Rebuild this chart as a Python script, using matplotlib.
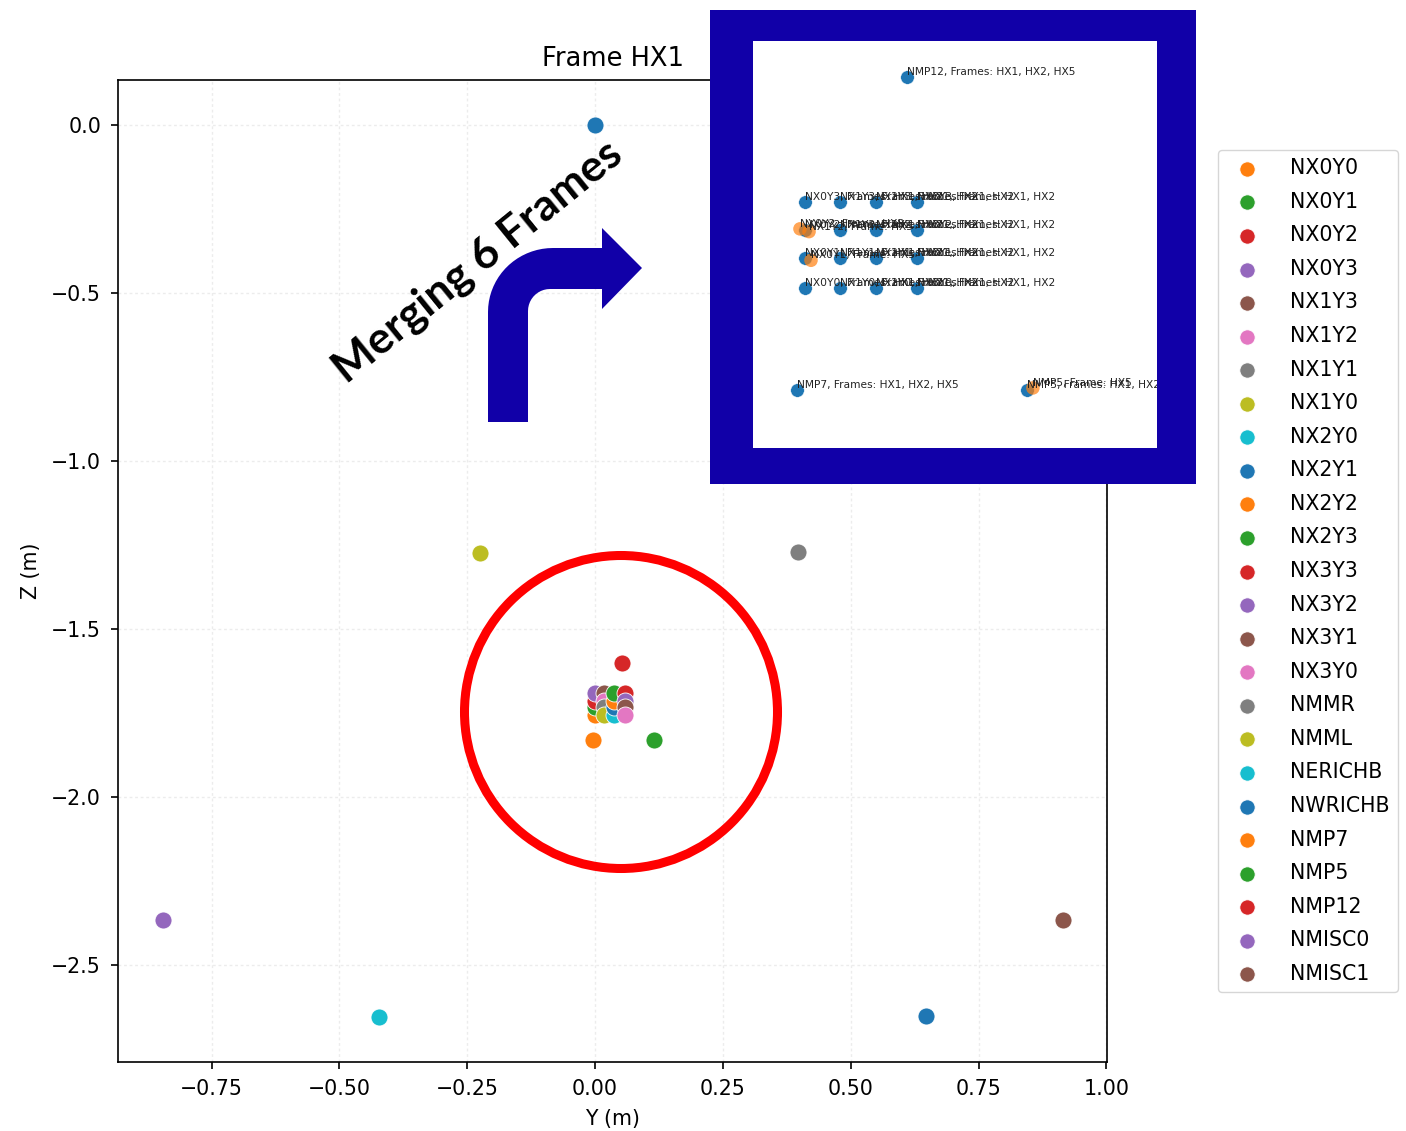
import numpy as np
import matplotlib.pyplot as plt
from matplotlib.patches import Circle, Rectangle, PathPatch
from matplotlib.path import Path

W, H = 1406, 1131

# node positions (Y, Z in metres), plotting order = legend order
names = ["NX0Y0", "NX0Y1", "NX0Y2", "NX0Y3", "NX1Y3", "NX1Y2", "NX1Y1", "NX1Y0",
         "NX2Y0", "NX2Y1", "NX2Y2", "NX2Y3", "NX3Y3", "NX3Y2", "NX3Y1", "NX3Y0",
         "NMMR", "NMML", "NERICHB", "NWRICHB", "NMP7", "NMP5", "NMP12",
         "NMISC0", "NMISC1"]
node_y = [0.0, 0.0, 0.0, 0.0, 0.018, 0.018, 0.018, 0.018,
          0.037, 0.037, 0.037, 0.037, 0.058, 0.058, 0.058, 0.058,
          0.397, -0.225, -0.422, 0.647, -0.004, 0.115, 0.053,
          -0.845, 0.915]
node_z = [-1.755, -1.733, -1.713, -1.692, -1.692, -1.713, -1.733, -1.755,
          -1.755, -1.733, -1.713, -1.692, -1.692, -1.713, -1.733, -1.755,
          -1.271, -1.274, -2.655, -2.652, -1.830, -1.830, -1.601,
          -2.366, -2.366]

# camera origin (first colour of the cycle, no legend entry)
cam_y = [0.0]
cam_z = [0.0]

# frames in which each merged node was seen
merged_frames = ["HX1, HX2"] * 16 + ["HX1, HX2"] * 4 + \
    ["HX1, HX2, HX5", "HX1, HX2", "HX1, HX2, HX5", "HX1, HX2", "HX1, HX2"]

# nodes only found in frame HX5
hx5_names = ["NX0Y2", "NX1Y2", "NX0Y1", "NMP5"]
hx5_y = [-0.0025, 0.0022, 0.0032, 0.118]
hx5_z = [-1.712, -1.714, -1.735, -1.8285]

tab = plt.get_cmap("tab10").colors

fig = plt.figure(figsize=(W / 100, H / 100), dpi=100)


def px(x, y):
    # pixel position (from top-left) -> figure inches
    return x / 100, (H - y) / 100


ax = fig.add_axes([118 / W, (H - 1062) / H, (1107 - 118) / W, (1062 - 80) / H])
ax.scatter(cam_y, cam_z, s=150, color=tab[0], edgecolor="white", linewidth=0.6)
for i, (n, y, z) in enumerate(zip(names, node_y, node_z)):
    ax.scatter([y], [z], s=150, color=tab[(i + 1) % 10], edgecolor="white",
               linewidth=0.6, label=n)

ax.set_xlim(-0.933, 1.001)
ax.set_ylim(-2.789, 0.134)
ax.set_xticks(np.arange(-0.75, 1.01, 0.25))
ax.set_yticks([0.0, -0.5, -1.0, -1.5, -2.0, -2.5])
ax.grid(True, color="#ececec", linestyle=(0, (2, 2)), linewidth=1.0)
ax.set_axisbelow(True)
ax.tick_params(labelsize=14.8, length=5.2, width=1.2, pad=7)
for sp in ax.spines.values():
    sp.set_linewidth(1.2)
ax.set_xlabel("Y (m)", fontsize=14.8, labelpad=7)
ax.set_ylabel("Z (m)", fontsize=14.8, labelpad=7)
ax.set_title("Frame HX1", fontsize=18.5, pad=10)

ax.legend(loc="upper left", bbox_to_anchor=(1218 / W, 1 - 150 / H),
          bbox_transform=fig.transFigure, fontsize=14.8, markerscale=0.9,
          handletextpad=1.1, labelspacing=0.66, borderaxespad=0)

# red ring around the node cluster
ring = Circle(px(621, 712), 1.565, transform=fig.dpi_scale_trans,
              fill=False, edgecolor="#ff0000", linewidth=6.5, zorder=5)
fig.add_artist(ring)

# blue frame holding the merged view
navy = "#1100a8"
fx, fy = px(710, 484)
fig.add_artist(Rectangle((fx, fy), 4.86, 4.74, transform=fig.dpi_scale_trans,
                         facecolor=navy, edgecolor="none", zorder=5))

ax_in = fig.add_axes([753 / W, (H - 448) / H, 404 / W, 407 / H])
ax_in.set_zorder(6)
ax_in.set_facecolor("white")
ax_in.set_xticks([])
ax_in.set_yticks([])
for sp in ax_in.spines.values():
    sp.set_visible(False)
ax_in.set_xlim(-0.0268, 0.1822)
ax_in.set_ylim(-1.8725, -1.5744)
ax_in.scatter(node_y, node_z, s=95, color=tab[0], edgecolor="white", linewidth=0.3)
ax_in.scatter(hx5_y, hx5_z, s=95, color=tab[1], alpha=0.7, edgecolor="none")
for n, y, z, f in zip(names, node_y, node_z, merged_frames):
    ax_in.text(y, z, f"{n}, Frames: {f}", fontsize=7.7, color="#222222",
               ha="left", va="bottom", clip_on=True)
for n, y, z in zip(hx5_names, hx5_y, hx5_z):
    ax_in.text(y, z, f"{n}, Frame: HX5", fontsize=7.7, color="#222222",
               ha="left", va="bottom", clip_on=True)

# bent arrow pointing into the merged view
t_out = np.linspace(np.pi, np.pi / 2, 20)
t_in = np.linspace(np.pi / 2, np.pi, 12)
outer = [(553 + 65 * np.cos(t), 312 - 64 * np.sin(t)) for t in t_out]
inner = [(550 + 22 * np.cos(t), 311 - 22 * np.sin(t)) for t in t_in]
pts = [(488, 422)] + outer + [(602, 248), (602, 228), (642, 268), (602, 309),
                              (602, 289)] + inner + [(528, 422), (488, 422)]
verts = [px(x, y) for x, y in pts]
codes = [Path.MOVETO] + [Path.LINETO] * (len(verts) - 2) + [Path.CLOSEPOLY]
fig.add_artist(PathPatch(Path(verts, codes), transform=fig.dpi_scale_trans,
                         facecolor=navy, edgecolor="none", zorder=7))

tx, ty = px(478, 261)
fig.text(tx, ty, "Merging 6 Frames", transform=fig.dpi_scale_trans,
         family="Lato", fontweight="bold", fontsize=32, rotation=39,
         rotation_mode="anchor", ha="center", va="center", zorder=8)

fig.savefig("out.png", dpi=100)
